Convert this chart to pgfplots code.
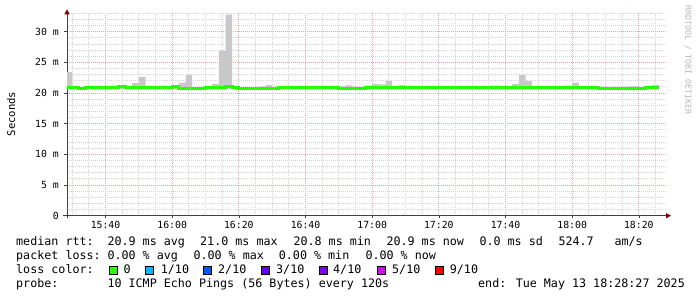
\documentclass[border=0pt]{standalone}
\usepackage{fontspec}
\setmainfont{DejaVu Sans Mono}
\usepackage{pgfplots}
\pgfplotsset{compat=1.18}
\usepgfplotslibrary{fillbetween}
\usetikzlibrary{arrows.meta}
\definecolor{smoke}{RGB}{200,200,200}
\definecolor{med}{RGB}{38,255,0}
\definecolor{mgrid}{RGB}{238,165,165}
\definecolor{ngrid}{RGB}{212,212,212}
\definecolor{arrowred}{RGB}{128,0,0}
\definecolor{lc1}{HTML}{00B8FF}
\definecolor{lc2}{HTML}{0059FF}
\definecolor{lc3}{HTML}{5E00FF}
\definecolor{lc4}{HTML}{7E00FF}
\definecolor{lc5}{HTML}{DD00FF}
\definecolor{lc9}{HTML}{FF0000}
\begin{document}
\begin{tikzpicture}
\path (0pt,0pt) rectangle (697pt,297pt);
\begin{axis}[
  at={(67pt,81.3pt)}, anchor=south west,
  scale only axis, width=600pt, height=202.4pt,
  xmin=28.45, xmax=208.45, ymin=0, ymax=33,
  axis x line*=bottom, axis y line*=left,
  x axis line style={black!75, line width=0.8pt, shorten <=-4pt, shorten >=-4pt, -{Triangle[length=5pt,width=5pt,color=arrowred]}},
  y axis line style={black!75, line width=0.8pt, shorten <=-2.5pt, shorten >=-4pt, -{Triangle[length=5pt,width=5pt,color=arrowred]}},
  xtick={40,60,...,200},
  xticklabels={15:40,16:00,16:20,16:40,17:00,17:20,17:40,18:00,18:20},
  minor xtick={30,35,...,205},
  ytick={0,5,...,30},
  yticklabels={0,5 m,10 m,15 m,20 m,25 m,30 m},
  minor ytick={1,2,...,33},
  grid=both,
  major grid style={draw=mgrid, line width=0.8pt, dash pattern=on 1pt off 1pt},
  minor grid style={draw=ngrid, line width=0.8pt, dash pattern=on 1pt off 1pt},
  tick align=outside,
  major tick length=2.5pt, minor tick length=0pt,
  tick style={black!75, line width=0.6pt},
  tick label style={font=\fontsize{9.8}{10}\selectfont},
  xticklabel style={anchor=base, inner sep=0pt, yshift=-10pt},
  yticklabel style={anchor=east, inner sep=0pt, xshift=-5.5pt},
]
\addplot[name path=hi, const plot, draw=none] coordinates {
(28,23.4) (30,20.95) (32,20.8) (34,21.1) (36,20.9) (38,20.9) (40,20.9) (42,20.9)
(44,21.2) (46,21.2) (48,21.6) (50,22.6) (52,21.2) (54,20.85) (56,20.85) (58,20.85)
(60,21.0) (62,21.7) (64,22.9) (66,20.8) (68,20.8) (70,21.05) (72,21.5) (74,26.9)
(76,32.8) (78,21.05) (80,20.8) (82,20.8) (84,20.8) (86,21.1) (88,21.35) (90,20.75)
(92,20.85) (94,20.85) (96,20.85) (98,20.85) (100,20.85) (102,20.85) (104,20.85) (106,20.85) (108,20.85)
(110,21.1) (112,21.25) (114,21.05) (116,20.75) (118,21.25) (120,21.5) (122,21.4) (124,22.0)
(126,21.05) (128,21.35) (130,21.2) (132,20.85) (134,20.95) (136,20.95)
(138,20.85) (140,20.85) (142,20.85) (144,20.85) (146,20.85) (148,20.85) (150,20.85) (152,20.85) (154,20.85)
(156,21.2) (158,20.85) (160,20.85) (162,21.5) (164,22.9) (166,22.0)
(168,20.85) (170,20.85) (172,20.85) (174,20.85) (176,20.85) (178,21.2) (180,21.7)
(182,20.85) (184,20.85) (186,20.95) (188,20.75) (190,21.0) (192,21.0) (194,21.0)
(196,21.1) (198,21.1) (200,20.8) (202,21.2) (204,21.35) (206,21.35)
};
\addplot[name path=lo, const plot, draw=none] coordinates {(28,20.6) (206,20.6)};
\addplot[smoke] fill between[of=hi and lo];
\addplot[const plot, draw=med, line width=2.9pt] coordinates {
(28,20.85) (30,20.95) (32,20.8) (34,20.85) (36,20.9) (38,20.9) (40,20.9) (42,20.9)
(44,21.0) (46,20.85) (48,20.85) (50,20.85) (52,20.85) (54,20.85) (56,20.85) (58,20.85)
(60,21.0) (62,20.8) (64,20.8) (66,20.8) (68,20.8) (70,20.85) (72,20.85) (74,20.85)
(76,21.05) (78,20.85) (80,20.8) (82,20.8) (84,20.8) (86,20.8) (88,20.75) (90,20.75)
(92,20.85) (94,20.85) (96,20.85) (98,20.85) (100,20.85) (102,20.85) (104,20.85) (106,20.85) (108,20.85)
(110,20.8) (112,20.8) (114,20.8) (116,20.75) (118,20.85) (120,20.85) (122,20.85) (124,20.85)
(126,20.85) (128,20.85) (130,20.85) (132,20.85) (134,20.95) (136,20.95)
(138,20.85) (140,20.85) (142,20.85) (144,20.85) (146,20.85) (148,20.85) (150,20.85) (152,20.85) (154,20.85)
(156,20.85) (158,20.85) (160,20.85) (162,20.85) (164,20.95) (166,20.85)
(168,20.85) (170,20.85) (172,20.85) (174,20.85) (176,20.85) (178,20.85) (180,20.85)
(182,20.85) (184,20.85) (186,20.95) (188,20.75) (190,20.75) (192,20.75) (194,20.75)
(196,20.75) (198,20.75) (200,20.8) (202,20.95) (204,20.9) (206,20.9)
};
\end{axis}
% y label and watermark
\node[rotate=90, font=\fontsize{10.6}{11}\selectfont, inner sep=0pt] at (11.2pt,183pt) {Seconds};
\node[rotate=-90, font=\fontsize{8.3}{9}\selectfont, text=black!28, inner sep=0pt] at (688pt,237pt) {RRDTOOL / TOBI OETIKER};
% legend text
\begin{scope}[every node/.style={anchor=base west, inner sep=0pt, font=\fontsize{11.7}{14}\selectfont}]
\node at (16pt,51.7pt) {median rtt:};
\node at (107.3pt,51.7pt) {20.9 ms avg};
\node at (200pt,51.7pt) {21.0 ms max};
\node at (293.3pt,51.7pt) {20.8 ms min};
\node at (386.3pt,51.7pt) {20.9 ms now};
\node at (479.3pt,51.7pt) {0.0 ms sd};
\node at (558.3pt,51.7pt) {524.7};
\node at (614.3pt,51.7pt) {am/s};
\node at (16pt,37.7pt) {packet loss:};
\node at (107.3pt,37.7pt) {0.00 \% avg};
\node at (193.3pt,37.7pt) {0.00 \% max};
\node at (278.7pt,37.7pt) {0.00 \% min};
\node at (365.3pt,37.7pt) {0.00 \% now};
\node at (16pt,23.7pt) {loss color:};
\node at (123.3pt,23.7pt) {0};
\node at (160.7pt,23.7pt) {1/10};
\node at (218pt,23.7pt) {2/10};
\node at (276pt,23.7pt) {3/10};
\node at (333pt,23.7pt) {4/10};
\node at (392pt,23.7pt) {5/10};
\node at (449.7pt,23.7pt) {9/10};
\node at (16pt,9.7pt) {probe:};
\node at (107.3pt,9.7pt) {10 ICMP Echo Pings (56 Bytes) every 120s};
\node at (478pt,9.7pt) {end: Tue May 13 18:28:27 2025};
\end{scope}
\begin{scope}[line width=0.8pt]
\filldraw[fill=med, draw=black] (109pt,23pt) rectangle (117pt,31pt);
\filldraw[fill=lc1, draw=black] (145.7pt,23pt) rectangle (153.7pt,31pt);
\filldraw[fill=lc2, draw=black] (203.3pt,23pt) rectangle (211.3pt,31pt);
\filldraw[fill=lc3, draw=black] (261.3pt,23pt) rectangle (269.3pt,31pt);
\filldraw[fill=lc4, draw=black] (319.3pt,23pt) rectangle (327.3pt,31pt);
\filldraw[fill=lc5, draw=black] (377.7pt,23pt) rectangle (385.7pt,31pt);
\filldraw[fill=lc9, draw=black] (435.7pt,23pt) rectangle (443.7pt,31pt);
\end{scope}
\pgfresetboundingbox
\useasboundingbox (0pt,0pt) rectangle (697pt,297pt);
\end{tikzpicture}
\end{document}
